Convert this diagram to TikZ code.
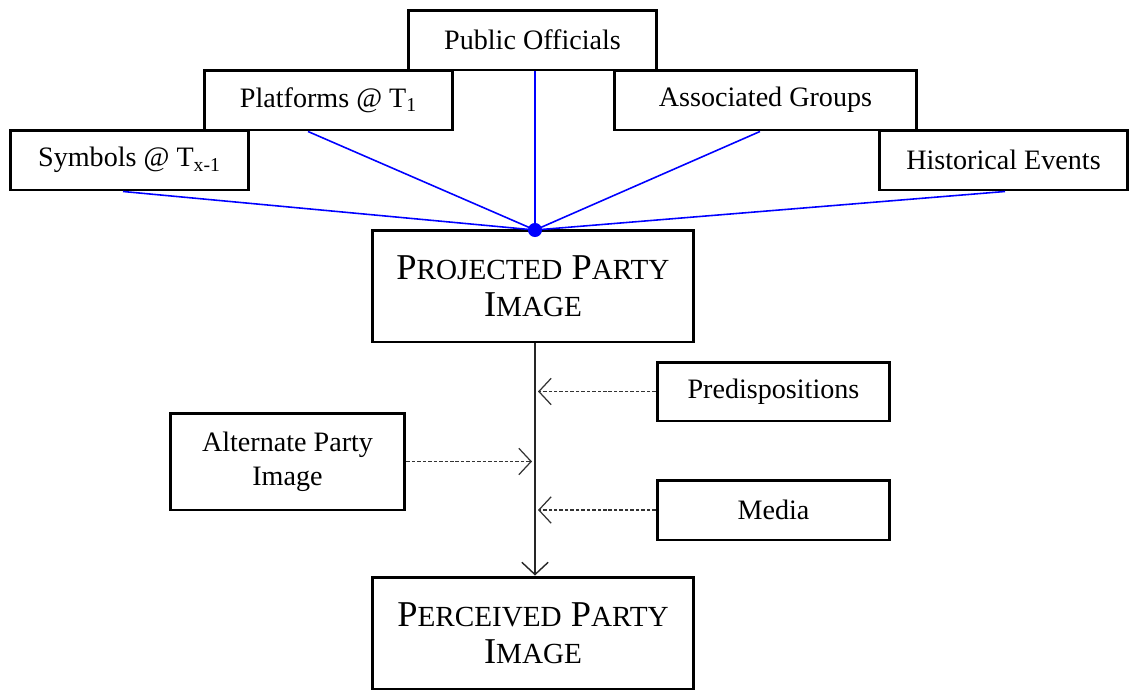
\documentclass[tikz,border=0pt]{standalone}
\usepackage{fontspec}
\setmainfont{Liberation Serif}
\usetikzlibrary{arrows.meta}
\newcommand{\capsc}[2]{{\fontsize{20.7}{21}\selectfont #1}{\fontsize{16.6}{21}\selectfont #2}}
\begin{document}
\begin{tikzpicture}[x=0.02cm, y=-0.02cm, >={Straight Barb[length=7pt, width=15pt]},
    every node/.style={draw, line width=1.7pt, inner sep=2pt, align=center,
        font=\fontsize{16}{19.5}\selectfont},
    image/.style={minimum width=6.44cm, minimum height=2.24cm, font=\fontsize{20.7}{21}\selectfont},
    feed/.style={blue, line width=0.9pt},
    pull/.style={->, gray!40!black, line width=0.7pt, dash pattern=on 2pt off 1.1pt}]
\useasboundingbox (0,0) rectangle (1130,690);
% sources of the projected image
\node[minimum width=4.98cm, minimum height=1.2cm] (PO) at (532.5,40) {Public Officials};
\node[minimum width=4.98cm, minimum height=1.2cm] (PL) at (328.5,100) {Platforms @ T\textsubscript{1}};
\node[minimum width=6.06cm, minimum height=1.2cm] (AG) at (765.5,100) {Associated Groups};
\node[minimum width=4.78cm, minimum height=1.2cm] (SY) at (129.5,160) {Symbols @ T\textsubscript{x-1}};
\node[minimum width=4.98cm, minimum height=1.2cm] (HE) at (1003.5,160) {Historical Events};
% images
\node[image] (PPI) at (533,286) {\capsc{P}{ROJECTED} \capsc{P}{ARTY}\\\capsc{I}{MAGE}};
\node[image] (PER) at (533,633) {\capsc{P}{ERCEIVED} \capsc{P}{ARTY}\\\capsc{I}{MAGE}};
% filters
\node[minimum width=4.66cm, minimum height=1.18cm] (PD) at (773.5,391.5) {Predispositions};
\node[minimum width=4.7cm, minimum height=1.94cm] (AL) at (287.5,461.5) {Alternate Party\\Image};
\node[minimum width=4.66cm, minimum height=1.2cm] (ME) at (773.5,510) {Media};
\coordinate (hub) at (535,230);
\foreach \src/\x in {SY/123, PL/308, PO/535, AG/760, HE/1005}
    \draw[feed] (\x,0 |- \src.south) -- (hub);
\fill[blue] (hub) circle (4pt);
\draw[->, gray!30!black, line width=0.8pt] (PPI.south -| hub) -- (PER.north -| hub);
\draw[pull] (PD.west) -- (PD.west -| 538,0);
\draw[pull] (AL.east) -- (AL.east -| 532,0);
\draw[pull] (ME.west) -- (ME.west -| 538,0);
\end{tikzpicture}
\end{document}
